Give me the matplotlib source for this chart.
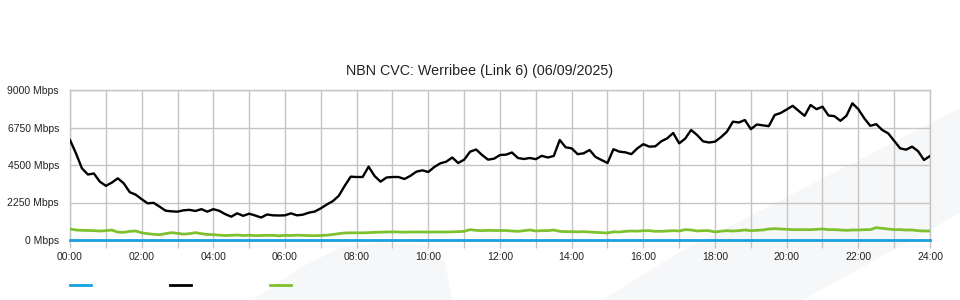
import numpy as np
import matplotlib
matplotlib.use("Agg")
import matplotlib.pyplot as plt
from matplotlib.lines import Line2D
from matplotlib.patches import Polygon

plt.rcParams["font.family"] = ["Liberation Sans", "DejaVu Sans"]

TITLE = "NBN CVC: Werribee (Link 6) (06/09/2025)"

# 10-minute samples, 00:00 .. 24:00 (hours)
hours = np.arange(145) / 6.0

# black series, Mbps
black_mbps = [
    6000, 5200, 4300, 3930, 3990, 3500,
    3250, 3440, 3700, 3400, 2870, 2720,
    2450, 2200, 2230, 2000, 1760, 1720,
    1700, 1780, 1810, 1740, 1850, 1700,
    1850, 1750, 1550, 1400, 1600, 1450,
    1580, 1470, 1350, 1530, 1480, 1470,
    1480, 1600, 1480, 1520, 1640, 1710,
    1900, 2130, 2330, 2650, 3250, 3800,
    3780, 3780, 4400, 3840, 3500, 3750,
    3780, 3780, 3660, 3850, 4100, 4180,
    4080, 4380, 4600, 4700, 4950, 4620,
    4820, 5300, 5430, 5100, 4820, 4880,
    5100, 5120, 5250, 4920, 4860, 4920,
    4850, 5050, 4950, 5040, 6000, 5560,
    5500, 5150, 5200, 5400, 4980, 4800,
    4620, 5450, 5300, 5260, 5150, 5500,
    5750, 5600, 5620, 5920, 6100, 6420,
    5800, 6080, 6600, 6300, 5920, 5850,
    5900, 6170, 6500, 7100, 7050, 7200,
    6650, 6930, 6880, 6830, 7500, 7620,
    7830, 8050, 7750, 7450, 8100, 7850,
    8000, 7470, 7430, 7150, 7450, 8200,
    7850, 7300, 6850, 6950, 6600, 6400,
    5950, 5500, 5420, 5600, 5330, 4800,
    5040,
]

# green series, Mbps
green_mbps = [
    660, 600, 580, 570, 560, 540,
    560, 600, 470, 460, 520, 540,
    430, 380, 340, 320, 380, 440,
    400, 350, 380, 440, 380, 330,
    320, 290, 270, 280, 300, 270,
    290, 260, 270, 280, 280, 250,
    280, 270, 290, 280, 260, 260,
    270, 290, 330, 380, 420, 430,
    430, 430, 440, 460, 470, 480,
    490, 480, 470, 480, 480, 480,
    480, 480, 480, 480, 490, 500,
    520, 620, 580, 560, 580, 570,
    570, 570, 540, 520, 560, 600,
    540, 560, 560, 600, 520, 500,
    500, 490, 500, 480, 460, 440,
    420, 490, 480, 520, 540, 530,
    560, 560, 520, 520, 540, 560,
    540, 620, 600, 540, 560, 560,
    480, 530, 560, 540, 560, 600,
    560, 580, 600, 660, 680, 660,
    640, 620, 620, 620, 620, 640,
    660, 620, 620, 600, 580, 600,
    600, 620, 620, 740, 700, 660,
    620, 620, 600, 600, 560, 540,
    540,
]

# blue series, hourly, Mbps (flat near zero)
blue_hours = list(range(25))
blue_mbps = [10, 10, 10, 10, 10, 10, 10, 10, 10, 10, 10, 10, 10,
             10, 10, 10, 10, 10, 10, 10, 10, 10, 10, 10, 10]

y_ticks = [0, 2250, 4500, 6750, 9000]
y_labels = [f"{v} Mbps" for v in y_ticks]
x_ticks = list(range(0, 25, 2))
x_labels = [f"{h:02d}:00" for h in x_ticks]

BLACK = "#000000"
GREEN = "#7dc22e"
BLUE = "#1aa0e0"
GRID = "#c4c4c4"
WM = "#f6f7f9"

fig = plt.figure(figsize=(9.6, 3.0), dpi=100)
W, H = 960.0, 300.0


def fpt(pts):
    return [(x / W, 1 - y / H) for x, y in pts]


# faint watermark shapes in the background
for pts in ([(253, 300), (300, 268), (340, 248), (380, 243), (427, 245), (445, 262), (452, 300)],
            [(602, 300), (680, 252), (960, 108), (960, 213), (803, 300)]):
    fig.patches.append(Polygon(fpt(pts), closed=True, transform=fig.transFigure,
                               facecolor=WM, edgecolor="none", zorder=-5))

ax = fig.add_axes([70 / W, 1 - 240 / H, 860 / W, 150 / H])
ax.set_zorder(2)
ax.set_facecolor("none")
ax.set_xlim(0, 24)
ax.set_ylim(0, 9000)

ax.set_xticks(x_ticks)
ax.set_xticklabels(x_labels)
ax.set_xticks(range(25), minor=True)
ax.set_yticks(y_ticks)
ax.set_yticklabels(y_labels)
ax.grid(True, which="both", axis="x", color=GRID, lw=1.0)
ax.grid(True, which="major", axis="y", color=GRID, lw=1.0)
ax.tick_params(axis="x", which="both", length=6, color=GRID, width=1.0,
               labelsize=7.5, labelcolor="#222222", pad=3)
ax.tick_params(axis="y", which="both", length=0, labelsize=7.5,
               labelcolor="#222222", pad=8)
for s in ax.spines.values():
    s.set_color(GRID)
    s.set_linewidth(1.0)
ax.set_axisbelow(True)

ax.plot(hours, green_mbps, color=GREEN, lw=2.0, zorder=3)
ax.plot(hours, black_mbps, color=BLACK, lw=1.7, zorder=4)
ax.plot(blue_hours, blue_mbps, color=BLUE, lw=2.0, zorder=5, clip_on=False)

fig.text(480 / W, 1 - 71 / H, TITLE, ha="center", va="center", fontsize=10.3, color="#222222")

# legend swatches (no labels)
for x0, c in ((70, BLUE), (170, BLACK), (270, GREEN)):
    fig.add_artist(Line2D([x0 / W, (x0 + 21) / W], [1 - 285 / H] * 2,
                          transform=fig.transFigure, color=c, lw=2.0))

fig.savefig("out.png", dpi=100)
